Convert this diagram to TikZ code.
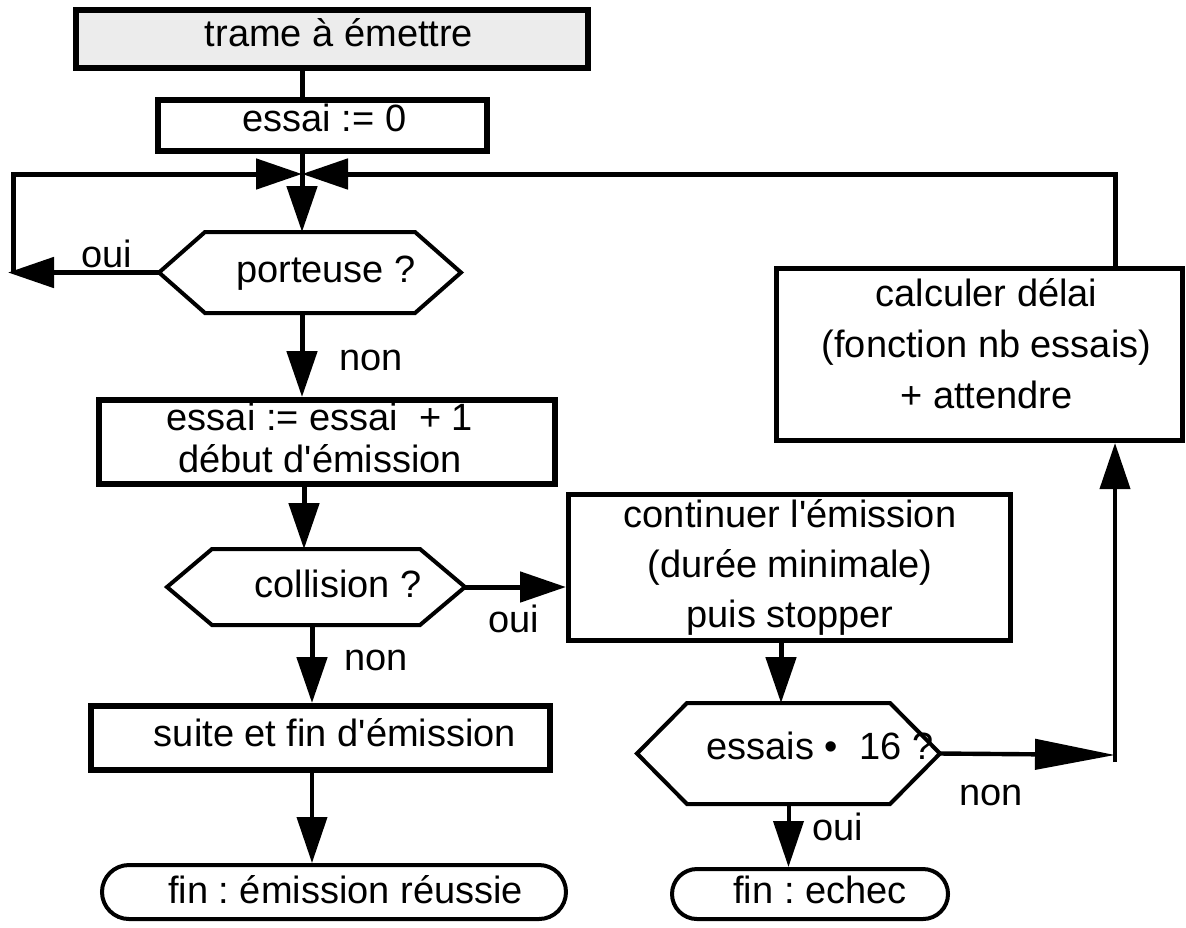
\documentclass[tikz,border=0pt]{standalone}
\usepackage{fontspec}
\setmainfont{Liberation Sans}
\usetikzlibrary{arrows.meta,calc}
\frenchspacing
\begin{document}
\begin{tikzpicture}[x=0.5pt,y=-0.5pt,
  txt/.style={font=\fontsize{19}{21}\selectfont, inner sep=0pt, anchor=base},
  mtxt/.style={font={\fontsize{19}{#1}\selectfont}, inner sep=0pt, align=center},
  procbox/.style={draw, line width=3pt, inner sep=0pt},
  thinbox/.style={draw, line width=2.5pt, inner sep=0pt},
  termbox/.style={draw, line width=2pt, inner sep=0pt},
  hexbox/.style={inner sep=0pt, outer sep=0pt},
  hexline/.style={line width=2pt, line join=miter},
  conn/.style={line width=2.5pt},
  arr/.style={conn, -{Triangle[length=23pt,width=15pt]}},
  longarr/.style={line width=2.2pt, -{Triangle[length=40pt,width=15pt]}}
]
\fill[white] (0,0) rectangle (1186,927);
\useasboundingbox (0,0) rectangle (1186,927);

% ---- nodes ----
\node[procbox, fill=gray!15, minimum width=256pt, minimum height=29pt] (trame) at (332,39) {};
\node[txt] (trame-t) at (339,46) {trame à émettre};

\node[procbox, minimum width=164.5pt, minimum height=25.5pt] (init) at (322.5,125.5) {};
\node[txt] (init-t) at (324.5,131) {essai := 0};

\node[hexbox, minimum width=151pt, minimum height=40.5pt] (port) at (310,272.5) {};
\draw[hexline] (port.west) -- ([xshift=23pt]port.north west) -- ([xshift=-23pt]port.north east) -- (port.east) -- ([xshift=-23pt]port.south east) -- ([xshift=23pt]port.south west) -- cycle;
\node[txt] (port-t) at (326,282) {porteuse ?};

\node[procbox, minimum width=228pt, minimum height=42pt] (incr) at (327,442) {};
\node[mtxt=21pt] (incr-t) at (320,438) {essai := essai\ \ + 1\\début d\textquotesingle émission};

\node[hexbox, minimum width=149pt, minimum height=38pt] (coll) at (316,587) {};
\draw[hexline] (coll.west) -- ([xshift=22.5pt]coll.north west) -- ([xshift=-22.5pt]coll.north east) -- (coll.east) -- ([xshift=-22.5pt]coll.south east) -- ([xshift=22.5pt]coll.south west) -- cycle;
\node[txt] (coll-t) at (338,597) {collision ?};

\node[thinbox, minimum width=221pt, minimum height=73pt] (cont) at (789.5,567.5) {};
\node[mtxt=25pt] (cont-t) at (790,567.5) {continuer l\textquotesingle émission\\(durée minimale)\\puis stopper};

\node[hexbox, minimum width=151.5pt, minimum height=50.5pt] (ess) at (788.5,753.5) {};
\draw[hexline] (ess.west) -- ([xshift=25pt]ess.north west) -- ([xshift=-25pt]ess.north east) -- (ess.east) -- ([xshift=-25pt]ess.south east) -- ([xshift=25pt]ess.south west) -- cycle;
\node[txt] (ess-t) at (820,759) {essais •\ \ 16 ?};

\node[procbox, minimum width=229.5pt, minimum height=32pt] (suite) at (320.5,738) {};
\node[txt] (suite-t) at (335,746) {suite et fin d\textquotesingle émission};

\node[termbox, rounded corners=13.5pt, minimum width=232pt, minimum height=27pt] (reus) at (334,892) {};
\node[txt] (reus-t) at (345.5,903) {fin : émission réussie};

\node[termbox, rounded corners=12.5pt, minimum width=138pt, minimum height=25pt] (echec) at (810,894) {};
\node[txt] (echec-t) at (820,903) {fin : echec};

\node[thinbox, minimum width=203pt, minimum height=86pt] (calc) at (979.5,354.5) {};
\node[mtxt=25.5pt] (calc-t) at (986.5,343.5) {calculer délai\\(fonction nb essais)\\+ attendre};

% ---- labels ----
\node[txt] (l-oui1) at (107,267) {oui};
\node[txt] (l-non1) at (371,370) {non};
\node[txt] (l-oui2) at (514,632) {oui};
\node[txt] (l-non2) at (376,670) {non};
\node[txt] (l-non3) at (991,805) {non};
\node[txt] (l-oui3) at (838,840) {oui};

% ---- coordinates ----
\coordinate (J) at (302,174);
\coordinate (Lt) at (8,272.5);
\coordinate (Lc) at (13,272.5);
\coordinate (R) at (1115,755);
\coordinate (Rs) at (1115,762);
\coordinate (c2) at (304,0);
\coordinate (c3) at (312,0);
\coordinate (c4) at (781,0);

% ---- connectors ----
\draw[conn] (J |- trame.south) -- (J |- init.north);
\draw[arr] (J |- init.south) -- (J |- port.north);
\draw[arr] (port.west) -- (Lt);
\draw[arr] (Lc) |- (J);
\draw[arr] (R |- calc.north) |- (J);
\draw[arr] (J |- port.south) -- (J |- incr.north);
\draw[arr] (c2 |- incr.south) -- (c2 |- coll.north);
\draw[arr] (coll.east) -- (coll.east -| cont.west);
\draw[arr] (c3 |- coll.south) -- (c3 |- suite.north);
\draw[arr, line width=2pt] (c3 |- suite.south) -- (c3 |- reus.north);
\draw[arr] (c4 |- cont.south) -- (c4 |- ess.north);
\draw[arr, line width=2pt] (ess.south) -- (ess.south |- echec.north);
\draw[longarr] (ess.east) -- (R);
\draw[arr, line width=2pt] (Rs) -- (Rs |- calc.south);
\end{tikzpicture}
\end{document}
